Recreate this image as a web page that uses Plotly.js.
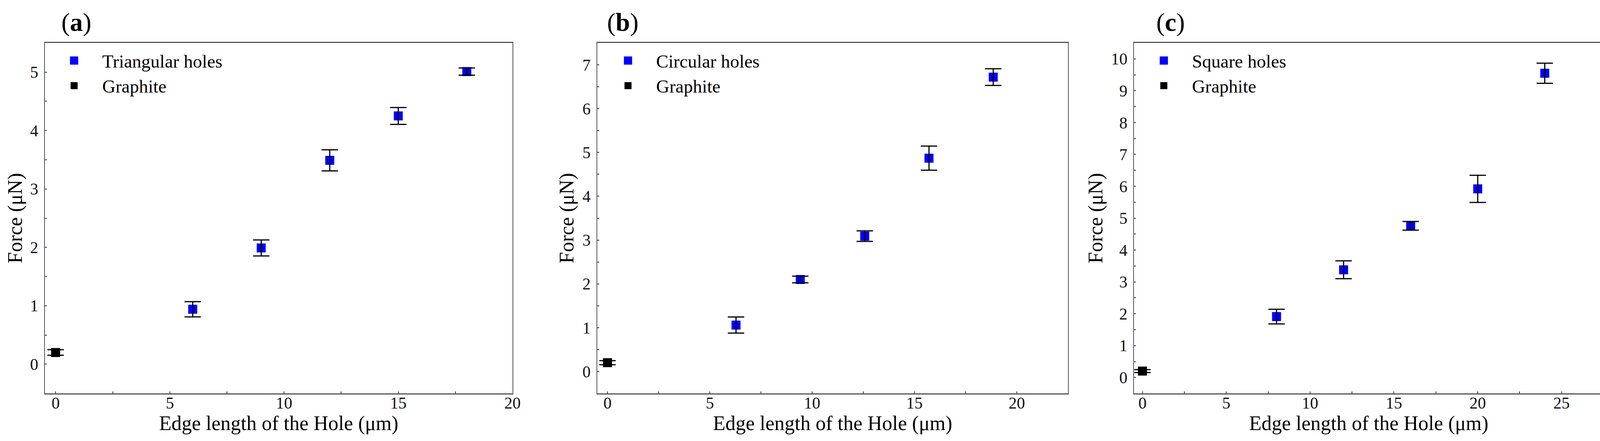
<!DOCTYPE html>
<html>
<head>
<meta charset="utf-8">
<script src="https://cdn.plot.ly/plotly-3.0.1.min.js"></script>
<style>html,body{margin:0;padding:0;background:#fff;}#chart{width:4118px;height:1129px;}</style>
</head>
<body>
<div id="chart"></div>
<script>
// ---- Data ----
// Panel (a): triangular holes
const triX = [6, 9, 12, 15, 18];
const triF = [0.94, 1.99, 3.49, 4.25, 5.01];
const triErr = [0.13, 0.137, 0.18, 0.144, 0.062];
// Panel (b): circular holes
const cirX = [6.28, 9.42, 12.57, 15.71, 18.85];
const cirF = [1.06, 2.10, 3.09, 4.87, 6.72];
const cirErr = [0.185, 0.075, 0.12, 0.275, 0.19];
// Panel (c): square holes
const sqX = [8, 12, 16, 20, 24];
const sqF = [1.91, 3.38, 4.76, 5.92, 9.55];
const sqErr = [0.23, 0.28, 0.137, 0.425, 0.315];
// Graphite reference (same in every panel)
const grX = [0];
const grF = [0.2];
const grErr = [0.047];

const panelNames = ['Triangular holes', 'Circular holes', 'Square holes'];
const panelLabels = ['a', 'b', 'c'];
const xTickStep = 5, xMinorStep = 2.5, yTickStep = 1, yMinorStep = 0.5;

// ---- Styling ----
const FONT = 'Liberation Serif, Times New Roman, serif';
const BLUE = '#0000ff';
const AXC = '#555555';

const series = [
  {x: triX, y: triF, e: triErr},
  {x: cirX, y: cirF, e: cirErr},
  {x: sqX, y: sqF, e: sqErr}
];

const xDomains = [[0.02793, 0.3186], [0.3713, 0.6639], [0.7050, 0.9968]];
const yDomain = [0.1080, 0.9026];
const xRanges = [[-0.47, 20], [-0.5, 22.5], [-0.5, 27.5]];
const yRanges = [[-0.5, 5.5], [-0.5, 7.5], [-0.5, 10.5]];
const legendTextOffset = [146.7, 150.7, 148.4];
const boxLeftPx = [115, 1529, 2903];
const labelLeftPx = [154.5, 1551.7, 2958.3];
const yTitleStandoff = [4, 6, 5];

const W = 4118, H = 1129;
const ITEMW = 134;

const traces = [];
const layout = {
  width: W, height: H,
  margin: {l: 0, r: 0, t: 0, b: 0},
  paper_bgcolor: '#ffffff',
  plot_bgcolor: '#ffffff',
  showlegend: true,
  font: {family: FONT, color: '#000000'},
  annotations: []
};

series.forEach((s, i) => {
  const n = i + 1;
  const xa = 'x' + (n === 1 ? '' : n);
  const ya = 'y' + (n === 1 ? '' : n);
  const lg = 'legend' + (n === 1 ? '' : n);
  // marker traces (legend)
  traces.push({
    type: 'scatter', mode: 'markers', x: s.x, y: s.y, xaxis: xa, yaxis: ya,
    name: panelNames[i], legend: lg,
    marker: {symbol: 'square', size: 18, color: BLUE, line: {color: BLUE, width: 5}},
    hoverinfo: 'x+y'
  });
  traces.push({
    type: 'scatter', mode: 'markers', x: grX, y: grF, xaxis: xa, yaxis: ya,
    name: 'Graphite', legend: lg,
    marker: {symbol: 'square', size: 21, color: '#000000', line: {color: '#000000', width: 2}},
    hoverinfo: 'x+y'
  });
  // error bars drawn on top of the markers
  traces.push({
    type: 'scatter', mode: 'markers', x: s.x, y: s.y, xaxis: xa, yaxis: ya,
    showlegend: false, hoverinfo: 'skip', legend: lg,
    marker: {size: 1, opacity: 0},
    error_y: {type: 'data', array: s.e, visible: true, color: '#000000', thickness: 3, width: 21}
  });
  traces.push({
    type: 'scatter', mode: 'markers', x: grX, y: grF, xaxis: xa, yaxis: ya,
    showlegend: false, hoverinfo: 'skip', legend: lg,
    marker: {size: 1, opacity: 0},
    error_y: {type: 'data', array: grErr, visible: true, color: '#000000', thickness: 3, width: 21}
  });

  const axCommon = {
    showline: true, linecolor: AXC, linewidth: 2.5, mirror: true,
    showgrid: false, zeroline: false,
    ticks: 'inside', ticklen: 5, tickwidth: 2, tickcolor: '#333333',
    tickfont: {family: FONT, size: 42, color: '#111111'},
    automargin: false
  };
  layout['xaxis' + (n === 1 ? '' : n)] = Object.assign({}, axCommon, {
    domain: xDomains[i], range: xRanges[i], anchor: ya,
    tick0: 0, dtick: xTickStep,
    minor: {ticks: 'inside', dtick: xMinorStep, ticklen: 5, tickwidth: 2, tickcolor: '#333333', showgrid: false},
    ticklabelstandoff: -14,
    title: {text: 'Edge length of the Hole (μm)', font: {family: FONT, size: 52, color: '#000000'}, standoff: 10}
  });
  layout['yaxis' + (n === 1 ? '' : n)] = Object.assign({}, axCommon, {
    domain: yDomain, range: yRanges[i], anchor: xa,
    tick0: 0, dtick: yTickStep,
    minor: {ticks: 'inside', dtick: yMinorStep, ticklen: 5, tickwidth: 2, tickcolor: '#333333', showgrid: false},
    ticklabelstandoff: 6,
    title: {text: 'Force (μN)', font: {family: FONT, size: 52, color: '#000000'}, standoff: yTitleStandoff[i]}
  });
  layout[lg] = {
    x: (boxLeftPx[i] + legendTextOffset[i] - (ITEMW + 10)) / W,
    xanchor: 'left',
    y: 1 - 118 / H, yanchor: 'top',
    bgcolor: 'rgba(0,0,0,0)', borderwidth: 0,
    itemwidth: ITEMW,
    font: {family: FONT, size: 47, color: '#000000'},
    traceorder: 'normal'
  };
  layout.annotations.push({
    xref: 'paper', yref: 'paper',
    x: labelLeftPx[i] / W, xanchor: 'left',
    y: 1 - 57 / H, yanchor: 'middle',
    text: '(<b>' + panelLabels[i] + '</b>)',
    showarrow: false,
    font: {family: FONT, size: 66, color: '#000000'}
  });
});

Plotly.newPlot('chart', traces, layout, {displayModeBar: false, staticPlot: true});
</script>
</body>
</html>
